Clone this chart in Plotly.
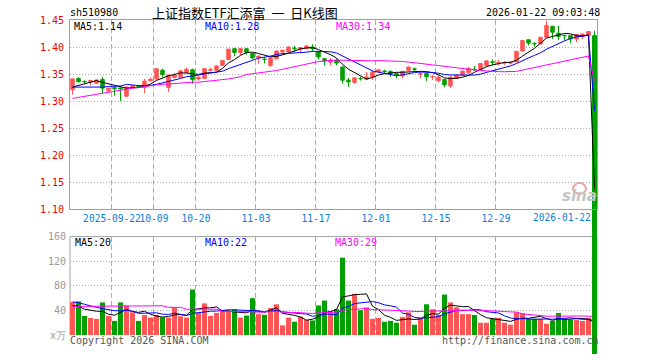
import plotly.graph_objects as go
import pandas as pd

# ---------------- data ----------------
tick_idx = [7, 14, 21, 31, 41, 51, 61, 71]
tick_labels = ["2025-09-22", "10-09", "10-20", "11-03", "11-17", "12-01", "12-15", "12-29"]
last_label = "2026-01-22"

open_ = [1.321, 1.342, 1.3365, 1.3357, 1.333, 1.340, 1.319, 1.325, 1.3245, 1.309,
         1.325, 1.327, 1.325, 1.3375, 1.341, 1.357, 1.325, 1.344, 1.344, 1.353,
         1.358, 1.341, 1.342, 1.357, 1.357, 1.366, 1.377, 1.397, 1.390, 1.397,
         1.388, 1.380, 1.3775, 1.366, 1.3785, 1.391, 1.391, 1.398, 1.396, 1.397,
         1.400, 1.391, 1.3785, 1.372, 1.3755, 1.363, 1.3387, 1.3344, 1.342, 1.3405,
         1.3448, 1.354, 1.3555, 1.355, 1.351, 1.3466, 1.357, 1.3595, 1.350, 1.351,
         1.345, 1.3378, 1.340, 1.328, 1.342, 1.348, 1.3524, 1.359, 1.3585, 1.3653,
         1.3725, 1.3705, 1.3705, 1.3705, 1.3726, 1.3927, 1.4134, 1.4065, 1.406, 1.418,
         1.4384, 1.4256, 1.4215, 1.4213, 1.415, 1.4195, 1.421, 1.421]
high = [1.342, 1.344, 1.338, 1.339, 1.340, 1.345, 1.325, 1.326, 1.325, 1.327,
        1.330, 1.330, 1.341, 1.343, 1.361, 1.360, 1.349, 1.352, 1.357, 1.362,
        1.360, 1.347, 1.361, 1.362, 1.366, 1.376, 1.397, 1.397, 1.398, 1.397,
        1.389, 1.385, 1.381, 1.381, 1.394, 1.395, 1.401, 1.402, 1.400, 1.403,
        1.405, 1.392, 1.380, 1.380, 1.378, 1.364, 1.343, 1.344, 1.345, 1.354,
        1.355, 1.359, 1.358, 1.357, 1.352, 1.356, 1.364, 1.362, 1.354, 1.352,
        1.348, 1.348, 1.341, 1.348, 1.349, 1.356, 1.363, 1.365, 1.370, 1.375,
        1.377, 1.376, 1.374, 1.374, 1.393, 1.413, 1.414, 1.409, 1.419, 1.449,
        1.439, 1.4396, 1.423, 1.422, 1.424, 1.425, 1.430, 1.430]
low = [1.312, 1.334, 1.333, 1.329, 1.332, 1.3135, 1.317, 1.310, 1.300, 1.308,
       1.324, 1.324, 1.315, 1.336, 1.340, 1.345, 1.317, 1.342, 1.343, 1.351,
       1.332, 1.338, 1.341, 1.355, 1.356, 1.365, 1.376, 1.383, 1.385, 1.386,
       1.377, 1.369, 1.370, 1.363, 1.377, 1.389, 1.390, 1.391, 1.391, 1.396,
       1.391, 1.377, 1.366, 1.366, 1.366, 1.3325, 1.326, 1.332, 1.338, 1.339,
       1.339, 1.352, 1.352, 1.345, 1.342, 1.342, 1.356, 1.355, 1.342, 1.337,
       1.339, 1.335, 1.3256, 1.324, 1.341, 1.347, 1.351, 1.3555, 1.358, 1.364,
       1.366, 1.366, 1.367, 1.368, 1.372, 1.392, 1.403, 1.4005, 1.405, 1.417,
       1.415, 1.4134, 1.412, 1.407, 1.409, 1.415, 1.418, 0.0]
close = [1.341, 1.336, 1.336, 1.338, 1.339, 1.324, 1.324, 1.323, 1.323, 1.326,
         1.328, 1.326, 1.337, 1.3405, 1.360, 1.349, 1.348, 1.348, 1.356, 1.359,
         1.340, 1.344, 1.360, 1.358, 1.365, 1.375, 1.396, 1.390, 1.397, 1.390,
         1.380, 1.383, 1.377, 1.380, 1.3926, 1.394, 1.400, 1.397, 1.399, 1.402,
         1.397, 1.3816, 1.374, 1.3755, 1.3705, 1.3387, 1.3356, 1.343, 1.3415, 1.3448,
         1.354, 1.358, 1.355, 1.351, 1.348, 1.355, 1.363, 1.359, 1.3505, 1.345,
         1.3455, 1.344, 1.330, 1.344, 1.348, 1.3555, 1.3604, 1.3585, 1.3695, 1.3744,
         1.372, 1.371, 1.371, 1.371, 1.392, 1.412, 1.4073, 1.406, 1.418, 1.4396,
         1.4274, 1.4195, 1.421, 1.415, 1.423, 1.424, 1.4287, 0.0]
volume = [53.7, 54.7, 31.0, 27.9, 26.3, 53.0, 31.0, 23.0, 53.0, 48.0,
          37.0, 23.0, 32.6, 28.4, 33.0, 29.0, 28.4, 45.0, 30.5, 28.4,
          74.0, 36.0, 51.5, 31.0, 36.0, 40.0, 38.4, 42.0, 28.4, 31.6,
          60.0, 34.0, 33.0, 44.0, 50.0, 15.8, 28.4, 21.6, 30.0, 24.7,
          23.7, 48.0, 56.0, 38.4, 42.0, 125.7, 56.0, 67.0, 40.5, 45.0,
          26.3, 27.9, 21.6, 23.0, 20.0, 29.5, 37.0, 16.8, 27.9, 50.0,
          42.0, 32.6, 65.8, 53.0, 45.0, 34.0, 34.0, 32.6, 20.0, 20.0,
          26.3, 27.9, 20.0, 16.8, 37.0, 35.8, 26.3, 26.3, 26.3, 18.4,
          23.0, 35.8, 26.3, 25.0, 25.0, 23.0, 28.0, 0.0]

# moving-average values before the window fills
ma5_head = [1.326, 1.329, 1.333, 1.335]
ma10_head = [1.326, 1.326, 1.325, 1.325, 1.325, 1.326, 1.327, 1.327, 1.328]
ma30_head = [1.305, 1.307, 1.309, 1.311, 1.313, 1.315, 1.317, 1.319, 1.321, 1.322,
             1.324, 1.325, 1.327, 1.328, 1.330, 1.331, 1.332, 1.333, 1.334, 1.334,
             1.335, 1.335, 1.336, 1.337, 1.338, 1.339, 1.341, 1.343, 1.345]
vma5_head = [48.0, 47.0, 42.0, 40.0]
vma10_head = [53.7, 52.6, 50.0, 47.0, 45.0, 43.0, 41.0, 39.5, 39.5]
vma30_head = [46.5] * 5 + [47.6] * 11 + [45.0] * 3 + [42.0] * 6 + [38.4] * 4

price_ma_text = ["MA5:1.14", "MA10:1.28", "MA30:1.34"]
vol_ma_text = ["MA5:20", "MA10:22", "MA30:29"]
price_ticks = [1.10, 1.15, 1.20, 1.25, 1.30, 1.35, 1.40, 1.45]
vol_ticks = [0, 40, 80, 120, 160]
vol_ticktext = ["x万", "40", "80", "120", "160"]

# ---------------- helpers ----------------
def ma(values, n, head):
    s = pd.Series(values).rolling(n).mean()
    s.iloc[:len(head)] = head
    return s.tolist()

idx = list(range(len(close)))
ma5, ma10, ma30 = ma(close, 5, ma5_head), ma(close, 10, ma10_head), ma(close, 30, ma30_head)
vma5, vma10, vma30 = ma(volume, 5, vma5_head), ma(volume, 10, vma10_head), ma(volume, 30, vma30_head)

RED = "#ff5555"
GREEN = "#00a000"
MONO = "DejaVu Sans Mono"
vol_colors = [RED if c >= o else GREEN for o, c in zip(open_, close)]

W, H, T, L, R = 660, 360, 20, 70, 63
PH = H - T                      # plot area height (bottom margin 0)
vol_dom = [(H - 340.7) / PH, (H - 240.5) / PH]
price_dom = [(H - 212.7) / PH, 1.0]
p_lo, p_hi = price_ticks[0], price_ticks[-1]
px_per_unit = (price_dom[1] - price_dom[0]) * PH / (p_hi - p_lo)
full_range = [p_hi - PH / px_per_unit, p_hi]   # same price scale over full height

fig = go.Figure()

# volume panel (x / y) -- drawn first
fig.add_trace(go.Bar(x=idx, y=volume, marker=dict(color=vol_colors, line=dict(width=0)),
                     width=0.83, xaxis="x", yaxis="y", hoverinfo="skip"))
for s, c in [(vma5, "black"), (vma10, "#0000ff"), (vma30, "#ff00ff")]:
    fig.add_trace(go.Scatter(x=idx, y=s, mode="lines", line=dict(color=c, width=1),
                             xaxis="x", yaxis="y", hoverinfo="skip"))

# last session's body, on a full-height price scale so it runs through both panels
fig.add_trace(go.Bar(x=[idx[-1]], y=[open_[-1] - close[-1]], base=[close[-1]], width=0.83,
                     marker=dict(color=vol_colors[-1], line=dict(width=0)),
                     xaxis="x2", yaxis="y2", hoverinfo="skip"))

# price panel (x3 / y3) -- drawn on top
fig.add_trace(go.Candlestick(x=idx, open=open_, high=high, low=low, close=close,
                             increasing=dict(line=dict(color=RED, width=1), fillcolor=RED),
                             decreasing=dict(line=dict(color=GREEN, width=1), fillcolor=GREEN),
                             whiskerwidth=0, xaxis="x3", yaxis="y3", hoverinfo="skip"))
for s, c in [(ma5, "black"), (ma10, "#0000ff"), (ma30, "#ff00ff")]:
    fig.add_trace(go.Scatter(x=idx, y=s, mode="lines", line=dict(color=c, width=1),
                             xaxis="x3", yaxis="y3", hoverinfo="skip"))

XR = [-0.4167, len(idx) - 1 + 0.4167]
grid_x = [i - 0.42 for i in tick_idx]
GRID = "#aaaaaa"
FRAME = "#a0a0a0"

fig.update_layout(
    width=W, height=H, margin=dict(l=L, r=R, t=T, b=0),
    paper_bgcolor="white", plot_bgcolor="rgba(0,0,0,0)", showlegend=False,
    boxgap=0.17, bargap=0.17,
    xaxis=dict(domain=[0, 1], range=XR, tickvals=grid_x, showticklabels=False,
               showgrid=True, gridcolor=GRID, griddash="5px,3px", gridwidth=1,
               zeroline=False, showline=False, ticks="", layer="below traces"),
    yaxis=dict(domain=vol_dom, range=[0, 160], tickvals=vol_ticks, ticktext=vol_ticktext,
               showgrid=True, gridcolor=GRID, griddash="1px,2px", zeroline=False,
               showline=False, ticks="", ticklabelstandoff=3,
               tickfont=dict(family=MONO, size=10, color="#999999"), layer="below traces"),
    xaxis2=dict(domain=[0, 1], range=XR, anchor="y2", visible=False),
    yaxis2=dict(domain=[0, 1], range=full_range, anchor="x2", visible=False),
    xaxis3=dict(domain=[0, 1], range=XR, tickvals=grid_x, ticktext=tick_labels,
                anchor="y3", showgrid=True, gridcolor=GRID, griddash="5px,3px",
                zeroline=False, showline=True, mirror=True, linecolor=FRAME, linewidth=1,
                ticks="", tickangle=0, tickfont=dict(family=MONO, size=9.6, color="#0a80d8"),
                layer="below traces", rangeslider=dict(visible=False)),
    yaxis3=dict(domain=price_dom, range=[p_lo, p_hi], tickvals=price_ticks,
                tickformat=".2f", anchor="x3", showgrid=True, gridcolor=GRID,
                griddash="1px,2px", zeroline=False, showline=True, mirror=True,
                linecolor=FRAME, linewidth=1, ticks="", ticklabelstandoff=3,
                tickfont=dict(family=MONO, size=10, color="#ee0000"), layer="below traces"),
)

# volume panel frame (left, top, right)
v0, v1 = vol_dom
for x0, y0, x1, y1 in [(0, v0, 0, v1), (0, v1, 1, v1), (1, v0, 1, v1)]:
    fig.add_shape(type="line", xref="paper", yref="paper", x0=x0, y0=y0, x1=x1, y1=y1,
                  line=dict(color=FRAME, width=1), layer="below")


def px(xp):
    return (xp - L) / (W - L - R)


def py(yp):
    return (H - yp) / PH


def note(text, x, y, anchor="left", color="black", size=10, family=MONO, **kw):
    fig.add_annotation(text=text, x=px(x), y=py(y), xref="paper", yref="paper",
                       xanchor=anchor, yanchor="middle", showarrow=False,
                       font=dict(family=family, size=size, color=color), **kw)


note("sh510980", 68, 12)
note("上证指数ETF汇添富\u00a0 一 \u00a0日K线图", 150, 12, size=13, family="Noto Sans CJK SC")
note("2026-01-22 09:03:48", 602, 12, anchor="right")
for t, x, c in zip(price_ma_text, [72, 203, 334], ["black", "#0000ff", "#ff00ff"]):
    note(t, x, 27, color=c)
for t, x, c in zip(vol_ma_text, [73, 203, 333], ["black", "#0000ff", "#ff00ff"]):
    note(t, x, 247, color=c)
note("Copyright 2026 SINA.COM", 68, 346, color="#555555")
note("http://finance.sina.com.cn", 440, 346, color="#555555")
note(last_label, 593, 221, anchor="right", color="#0a80d8", size=9.6)

# sina watermark
fig.add_shape(type="circle", xref="paper", yref="paper", x0=px(573), x1=px(586),
              y0=py(197), y1=py(186), line=dict(color="#f2a0a0", width=2), layer="below")
note("<b><i>sina</i></b>", 579, 199, anchor="center", color="#c4c4c4", size=15,
     family="DejaVu Sans")

fig.write_html("out.html", config={"displayModeBar": False},
               post_script="document.body.style.margin='0';")
